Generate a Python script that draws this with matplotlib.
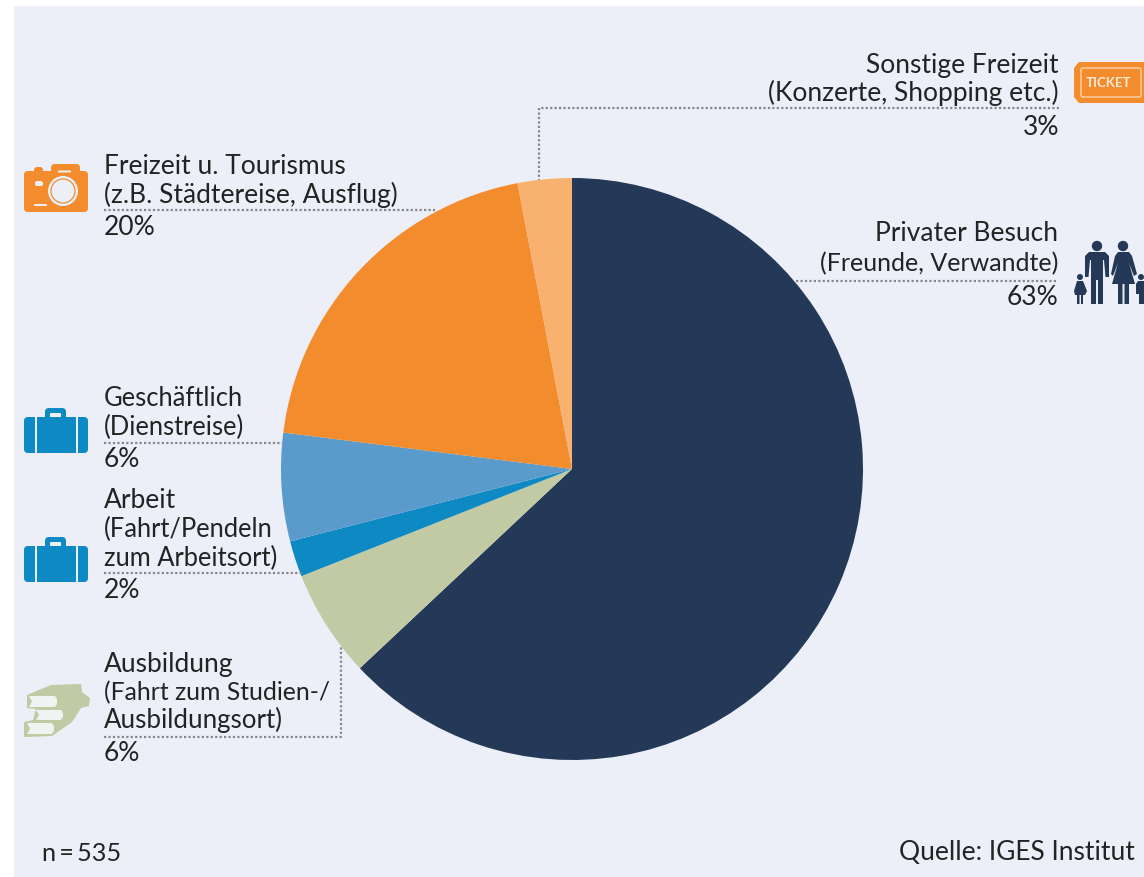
import matplotlib
matplotlib.use("Agg")
import matplotlib.pyplot as plt
from matplotlib.patches import Rectangle, FancyBboxPatch, Circle, Polygon

plt.rcParams['font.family'] = ['Lato', 'DejaVu Sans']

categories = ["Privater Besuch", "Ausbildung", "Arbeit", "Geschäftlich",
              "Freizeit u. Tourismus", "Sonstige Freizeit"]
values = [63, 6, 2, 6, 20, 3]
pct_labels = ["63%", "6%", "2%", "6%", "20%", "3%"]
colors = ["#243858", "#C1CAA2", "#0D89C3", "#5B9BCB", "#F28C2D", "#F8B16F"]
sublabels = {
    "Privater Besuch": ["(Freunde, Verwandte)"],
    "Ausbildung": ["(Fahrt zum Studien-/", "Ausbildungsort)"],
    "Arbeit": ["(Fahrt/Pendeln", "zum Arbeitsort)"],
    "Geschäftlich": ["(Dienstreise)"],
    "Freizeit u. Tourismus": ["(z.B. Städtereise, Ausflug)"],
    "Sonstige Freizeit": ["(Konzerte, Shopping etc.)"],
}
sample_note = "n\u2009=\u2009535"
source_note = "Quelle: IGES Institut"

W, H = 1144, 877
BG = "#ECEFF7"
TXT = "#232323"
DOT = "#85878C"
FS = 19
# lines whose width differs in this substitute font
FS_LINE = {"(Fahrt zum Studien-/": 17.8, "(Freunde, Verwandte)": 18.0,
           "zum Arbeitsort)": 18.4, "(Fahrt/Pendeln": 18.4, "Ausbildungsort)": 18.6,
           "(Dienstreise)": 18.4, "Geschäftlich": 18.4}

fig = plt.figure(figsize=(W / 100, H / 100), dpi=100, facecolor="white")
ax = fig.add_axes([0, 0, 1, 1])
ax.set_xlim(0, W)
ax.set_ylim(H, 0)
ax.axis("off")
ax.add_patch(Rectangle((14, 6), W - 14, H - 6, fc=BG, ec="none", zorder=0))

# pie: centre (572, 469), radius 291 px
cx, cy, r = 572, 469, 291
pax = fig.add_axes([(cx - r) / W, 1 - (cy + r) / H, 2 * r / W, 2 * r / H])
pax.pie(values, colors=colors, startangle=90, counterclock=False, radius=1,
        wedgeprops=dict(linewidth=0))
pax.set_xlim(-1, 1)
pax.set_ylim(-1, 1)
pax.patch.set_alpha(0)

# overlay for text, leader lines and icons
ov = fig.add_axes([0, 0, 1, 1])
ov.set_xlim(0, W)
ov.set_ylim(H, 0)
ov.axis("off")
ov.patch.set_alpha(0)


def dots(xs, ys):
    ov.plot(xs, ys, color=DOT, lw=1.6, ls=(0, (1, 1)), zorder=2)


def label(x, lines, ys, ha="left"):
    for s, y in zip(lines, ys):
        ov.text(x, y, s, ha=ha, va="baseline", fontsize=FS_LINE.get(s, FS), color=TXT, zorder=3)


def block(name, x, ys, ha="left"):
    i = categories.index(name)
    label(x, [name] + sublabels[name] + [pct_labels[i]], ys, ha)


block("Freizeit u. Tourismus", 104, [174, 203, 235])
block("Geschäftlich", 104, [406, 435, 467])
block("Arbeit", 104, [508, 537, 566, 598])
block("Ausbildung", 104, [672, 700, 728, 761])
block("Sonstige Freizeit", 1059, [73, 101, 135], ha="right")
block("Privater Besuch", 1058, [241, 271, 305], ha="right")

dots([104, 437], [210, 210])
dots([104, 282], [443, 443])
dots([104, 302], [573, 573])
dots([104, 341, 341], [737, 737, 647])
dots([1059, 539, 539], [108, 108, 180])
dots([796, 1058], [281, 281])

ov.text(42, 861, sample_note, fontsize=18.2, color=TXT, va="baseline")
ov.text(1135, 860, source_note, fontsize=FS, color=TXT, va="baseline", ha="right")


def rrect(x0, y0, x1, y1, rad, fc, z=4, ec="none", lw=0):
    ov.add_patch(FancyBboxPatch((x0 + rad, y0 + rad), x1 - x0 - 2 * rad, y1 - y0 - 2 * rad,
                                boxstyle=f"round,pad={rad},rounding_size={rad}",
                                fc=fc, ec=ec, lw=lw, zorder=z))


def briefcase(y):
    c = colors[2]
    rrect(45, y, 66, y + 14, 4, c)
    rrect(50, y + 5, 61, y + 10, 1, BG, z=5)
    rrect(24, y + 9, 88, y + 45, 4, c, z=5)
    ov.add_patch(Rectangle((35, y + 9), 2, 36, fc=BG, ec="none", zorder=6))
    ov.add_patch(Rectangle((76, y + 9), 2, 36, fc=BG, ec="none", zorder=6))


def camera():
    c = colors[4]
    rrect(24, 171, 88, 212, 4, c)
    rrect(51, 164, 80, 178, 4, c)
    rrect(34, 167, 43, 178, 3, c)
    ov.add_patch(Circle((63, 191), 15, fc=BG, ec="none", zorder=5))
    ov.add_patch(Circle((63, 191), 12, fc="none", ec=c, lw=0.9, zorder=6))
    rrect(58, 170.5, 71, 172.5, 0.8, BG, z=5)
    rrect(35, 181, 43, 186, 2, BG, z=5)
    rrect(34, 204, 47, 206, 0.8, BG, z=5)


def ticket():
    c = colors[4]
    ov.add_patch(Polygon([(1079, 62), (1144, 62), (1144, 103), (1079, 103), (1074, 97),
                          (1074, 68)], fc=c, ec="none", zorder=4))
    rrect(1081, 68, 1141, 97, 2, "none", z=5, ec="#F8D5AE", lw=1.0)
    ov.text(1109, 83, "TICKET", color="#FDEBD8", fontsize=9.5, fontweight="bold",
            ha="center", va="center", zorder=6)


def books():
    c = colors[1]
    ov.add_patch(Polygon([(51, 685), (81, 684), (82, 692), (90, 698), (89, 706), (81, 708),
                          (72, 722), (52, 736), (24, 737), (24, 722), (33, 720), (36, 709),
                          (27, 708), (27, 695)], fc=c, ec="none", zorder=4))
    page = "#F1F3F3"
    ov.add_patch(Polygon([(29, 696), (55, 696), (57, 699), (57, 704), (55, 707), (29, 707),
                          (32, 701.5)], fc=page, ec="none", zorder=5))
    ov.add_patch(Polygon([(36, 710), (61, 710), (63, 713), (63, 717), (61, 720), (36, 720),
                          (39, 715)], fc=page, ec="none", zorder=5))
    ov.add_patch(Polygon([(27, 723), (52, 723), (54, 726), (54, 731), (52, 734), (27, 734),
                          (30, 728.5)], fc=page, ec="none", zorder=5))


def family():
    c = colors[0]
    # father
    ov.add_patch(Circle((1097, 246), 5.2, fc=c, ec="none", zorder=4))
    ov.add_patch(Polygon([(1089, 252), (1105, 252), (1109, 256), (1109, 277), (1105.5, 277),
                          (1104, 260), (1103, 260), (1103, 304), (1098, 304), (1098, 280),
                          (1096, 280), (1096, 304), (1091, 304), (1091, 260), (1090, 260),
                          (1088.5, 277), (1085, 277), (1085, 256)],
                         fc=c, ec="none", zorder=4))
    # mother
    ov.add_patch(Circle((1123, 246), 5.2, fc=c, ec="none", zorder=4))
    ov.add_patch(Polygon([(1118, 252), (1129, 252), (1132, 256), (1137, 274), (1134, 276),
                          (1129, 263), (1135, 284), (1129, 284), (1129, 304), (1124.5, 304),
                          (1124.5, 284), (1122.5, 284), (1122.5, 304), (1118, 304), (1118, 284),
                          (1112, 284), (1118, 263), (1113, 276), (1111, 274), (1115, 256)],
                         fc=c, ec="none", zorder=4))
    # children
    ov.add_patch(Circle((1080, 277), 3, fc=c, ec="none", zorder=4))
    ov.add_patch(Polygon([(1077, 281), (1083, 281), (1087, 291), (1085, 295), (1083, 295),
                          (1083, 304), (1081, 304), (1081, 295), (1079.5, 295), (1079.5, 304),
                          (1077, 304), (1077, 295), (1075, 295), (1074, 291)],
                         fc=c, ec="none", zorder=4))
    ov.add_patch(Circle((1141, 277), 3, fc=c, ec="none", zorder=4))
    ov.add_patch(Polygon([(1138, 281), (1144, 281), (1144, 304), (1139, 304), (1139, 294),
                          (1136, 294), (1136, 284)], fc=c, ec="none", zorder=4))


camera()
briefcase(408)
briefcase(537)
books()
ticket()
family()

fig.savefig("out.png", dpi=100, facecolor="white")
